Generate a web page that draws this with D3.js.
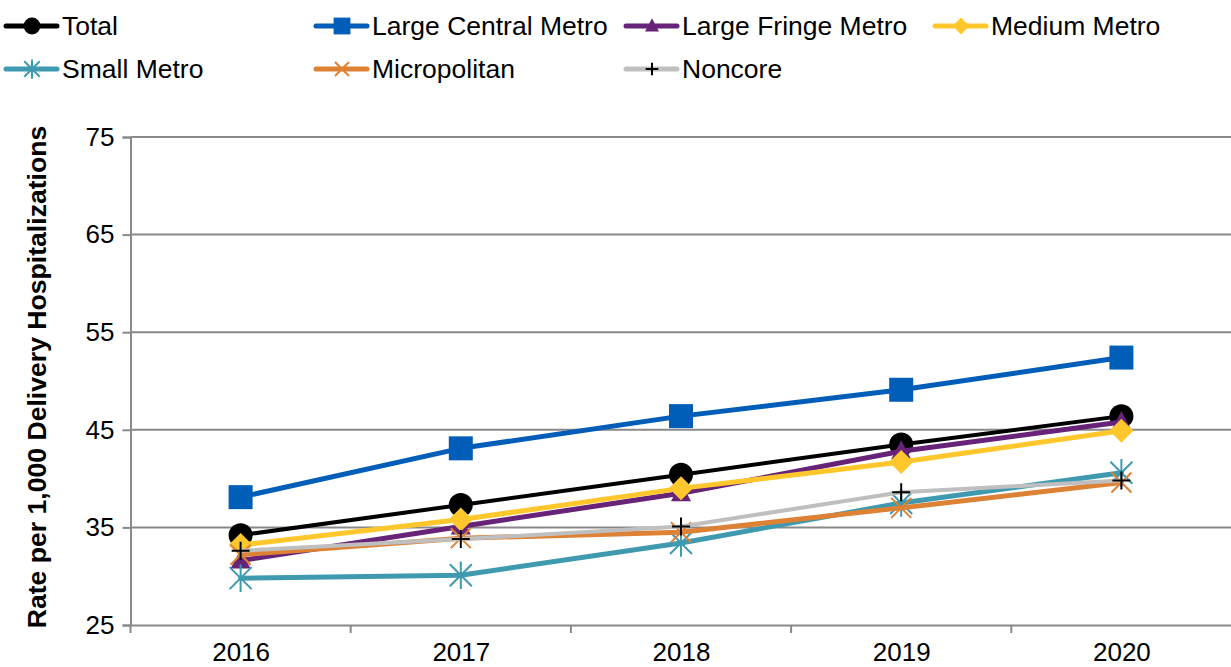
<!DOCTYPE html>
<html><head><meta charset="utf-8">
<script src="https://cdn.jsdelivr.net/npm/d3@7/dist/d3.min.js"></script>
<style>body{margin:0;background:#fff}svg{display:block}text{font-family:"Liberation Sans",Arial,sans-serif}</style>
</head><body><svg id="c" width="1231" height="667"></svg>
<script>
const years = ["2016","2017","2018","2019","2020"];
const yTicks = [25,35,45,55,65,75];
const seriesNames = ["Total","Large Central Metro","Large Fringe Metro","Medium Metro","Small Metro","Micropolitan","Noncore"];
const total = [34.2, 37.3, 40.4, 43.5, 46.4];
const largeCentral = [38.1, 43.1, 46.4, 49.1, 52.4];
const largeFringe = [31.6, 35.1, 38.5, 42.8, 45.8];
const mediumMetro = [33.2, 35.8, 39.0, 41.7, 44.9];
const smallMetro = [29.8, 30.1, 33.4, 37.5, 40.6];
const micropolitan = [32.2, 33.9, 34.5, 37.0, 39.6];
const noncore = [32.6, 33.8, 35.1, 38.6, 39.8];
const yTitle = "Rate per 1,000 Delivery Hospitalizations";

const seriesValues = [total, largeCentral, largeFringe, mediumMetro, smallMetro, micropolitan, noncore];
const styles = [
  {color:"#000000", width:4, marker:"circle", mcolor:"#000000"},
  {color:"#005EB8", width:5, marker:"square", mcolor:"#005EB8"},
  {color:"#672378", width:5, marker:"triangle", mcolor:"#672378"},
  {color:"#FFC72C", width:5, marker:"diamond", mcolor:"#FFC72C"},
  {color:"#3F9AB0", width:5, marker:"star", mcolor:"#3F9AB0"},
  {color:"#DD8235", width:5, marker:"x", mcolor:"#DD8235"},
  {color:"#BFBFBF", width:4, marker:"plus", mcolor:"#000000"}
];

const svg = d3.select("#c");
const L = 130.5, R = 1231.5, T = 137, B = 625;
const xBand = d3.scaleBand().domain(years).range([L, R]);
const x = d3.scalePoint().domain(years).range([L, R]).padding(0.5);
const y = d3.scaleLinear().domain([25, 75]).range([B, T]);

// gridlines
svg.append("g").selectAll("line").data(yTicks.filter(t=>t>25)).join("line")
  .attr("x1", L).attr("x2", R).attr("y1", d=>y(d)).attr("y2", d=>y(d))
  .attr("stroke", "#898989").attr("stroke-width", 2);

// y axis
const yAxis = svg.append("g").attr("transform", `translate(${L},0)`)
  .call(d3.axisLeft(y).tickValues(yTicks).tickSize(8).tickPadding(8).tickFormat(d3.format("d")));
yAxis.select(".domain").attr("stroke", "#898989").attr("stroke-width", 2);
yAxis.selectAll(".tick line").attr("stroke", "#898989").attr("stroke-width", 2);
yAxis.selectAll("text").attr("font-size", 26).attr("fill", "#000").attr("font-family", "Liberation Sans, Arial, sans-serif");

// x axis
const xAxis = svg.append("g").attr("transform", `translate(0,${B})`)
  .call(d3.axisBottom(x).tickSize(0).tickPadding(18));
xAxis.select(".domain").attr("stroke", "#898989").attr("stroke-width", 2);
xAxis.selectAll("text").attr("font-size", 26).attr("fill", "#000").attr("font-family", "Liberation Sans, Arial, sans-serif");
svg.append("g").selectAll("line").data(years).join("line")
  .attr("x1", d=>xBand(d)).attr("x2", d=>xBand(d))
  .attr("y1", B).attr("y2", B + 8)
  .attr("stroke", "#898989").attr("stroke-width", 2);

// y title
svg.append("text").attr("transform", `translate(46,377) rotate(-90)`)
  .attr("text-anchor", "middle").attr("font-size", 26.6).attr("font-weight", "bold")
  .text(yTitle);

function drawMarker(g, type, color, cx, cy, s) {
  s = s || 1;
  if (type === "circle") g.append("circle").attr("cx", cx).attr("cy", cy).attr("r", 12*s).attr("fill", color);
  else if (type === "square") g.append("rect").attr("x", cx-12*s).attr("y", cy-12*s).attr("width", 24*s).attr("height", 24*s).attr("fill", color);
  else if (type === "triangle") g.append("path").attr("d", `M${cx},${cy-11*s}L${cx+10*s},${cy+8*s}L${cx-10*s},${cy+8*s}Z`).attr("fill", color);
  else if (type === "diamond") g.append("path").attr("d", `M${cx},${cy-12*s}L${cx+12*s},${cy}L${cx},${cy+12*s}L${cx-12*s},${cy}Z`).attr("fill", color);
  else if (type === "star") {
    const r = 11*s;
    g.append("path").attr("d", `M${cx-r},${cy-r}L${cx+r},${cy+r}M${cx+r},${cy-r}L${cx-r},${cy+r}M${cx},${cy-r*1.25}L${cx},${cy+r*1.25}`)
      .attr("stroke", color).attr("stroke-width", 2).attr("fill", "none");
  } else if (type === "x") {
    const r = 10*s;
    g.append("path").attr("d", `M${cx-r},${cy-r}L${cx+r},${cy+r}M${cx+r},${cy-r}L${cx-r},${cy+r}`)
      .attr("stroke", color).attr("stroke-width", 2).attr("fill", "none");
  } else if (type === "plus") {
    const r = 9*s;
    g.append("path").attr("d", `M${cx-r},${cy}L${cx+r},${cy}M${cx},${cy-r}L${cx},${cy+r}`)
      .attr("stroke", color).attr("stroke-width", 2).attr("fill", "none");
  }
}

const line = d3.line().x((d,i)=>x(years[i])).y(d=>y(d));
seriesValues.forEach((vals, si) => {
  const st = styles[si];
  const g = svg.append("g");
  g.append("path").attr("d", line(vals)).attr("fill", "none")
    .attr("stroke", st.color).attr("stroke-width", st.width).attr("stroke-linejoin", "round").attr("stroke-linecap", "round");
  vals.forEach((v,i) => drawMarker(g, st.marker, st.mcolor, x(years[i]), y(v)));
});

// legend
const legendPos = [[6,26],[316,26],[626,26],[935,26],[6,69],[316,69],[626,69]];
seriesNames.forEach((name, i) => {
  const st = styles[i];
  const [lx, ly] = legendPos[i];
  const g = svg.append("g");
  g.append("line").attr("x1", lx).attr("x2", lx+51).attr("y1", ly).attr("y2", ly)
    .attr("stroke", st.color).attr("stroke-width", 5).attr("stroke-linecap", "round");
  drawMarker(g, st.marker, st.mcolor, lx+26, ly, 0.7);
  g.append("text").attr("x", lx+56).attr("y", ly).attr("dy", "0.35em")
    .attr("font-size", 26.5).attr("fill", "#000").text(name);
});
</script></body></html>
